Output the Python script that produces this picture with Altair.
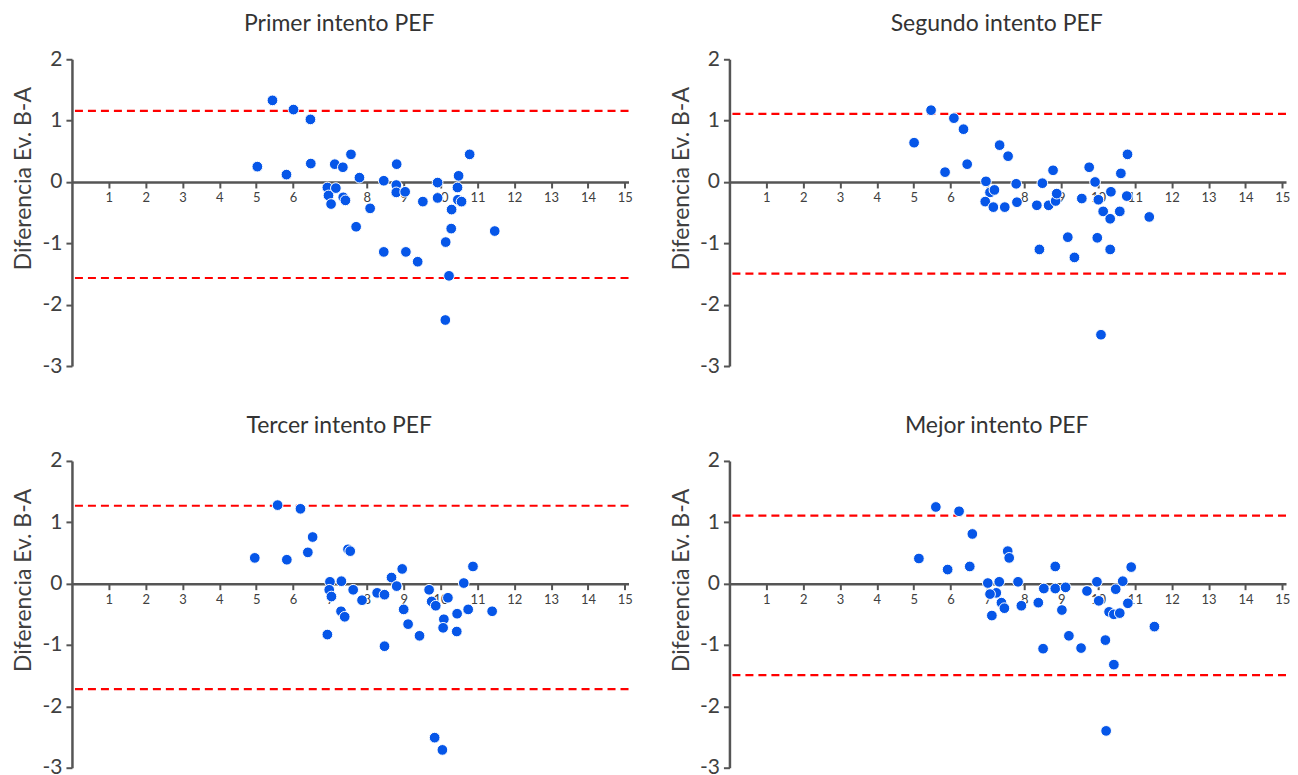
import altair as alt
import pandas as pd

TITLES = ["Primer intento PEF", "Segundo intento PEF", "Tercer intento PEF", "Mejor intento PEF"]
Y_TITLE = "Diferencia  Ev. B-A"
X_TICKS = list(range(1, 16))
Y_TICKS = [-3, -2, -1, 0, 1, 2]

P1_X = [5.44, 6.01, 6.47, 5.03, 5.82, 6.48, 7.13, 7.35, 7.57, 7.80, 6.93, 7.16, 6.96, 7.03, 7.36,
        7.42, 8.09, 7.71, 8.46, 8.81, 8.80, 8.80, 9.04, 9.52, 8.46, 9.06, 9.38, 9.92, 9.92, 10.49,
        10.46, 10.47, 10.57, 10.30, 10.29, 10.14, 10.23, 10.13, 10.79, 11.47]
P1_Y = [1.33, 1.18, 1.02, 0.25, 0.12, 0.30, 0.29, 0.24, 0.45, 0.07, -0.09, -0.10, -0.22, -0.36, -0.25,
        -0.30, -0.43, -0.73, 0.02, 0.29, -0.05, -0.17, -0.16, -0.32, -1.14, -1.14, -1.30, -0.01, -0.26, 0.10,
        -0.09, -0.29, -0.32, -0.45, -0.76, -0.98, -1.53, -2.25, 0.45, -0.80]
P1_LIMITS = [1.16, -1.565]

P2_X = [5.47, 6.09, 6.35, 5.01, 5.85, 6.45, 7.33, 7.56, 6.96, 7.07, 7.19, 6.94, 7.16, 7.47, 7.78,
        7.80, 8.34, 8.49, 8.78, 8.66, 8.85, 8.88, 8.41, 9.18, 9.36, 9.56, 9.76, 9.92, 10.01, 10.14,
        10.33, 10.35, 9.98, 10.33, 10.08, 10.62, 10.80, 10.78, 10.59, 11.39]
P2_Y = [1.17, 1.04, 0.86, 0.64, 0.16, 0.29, 0.60, 0.42, 0.01, -0.17, -0.13, -0.32, -0.41, -0.41, -0.03,
        -0.33, -0.38, -0.02, 0.19, -0.38, -0.31, -0.19, -1.10, -0.90, -1.23, -0.27, 0.24, 0.00, -0.29, -0.48,
        -0.60, -0.16, -0.91, -1.10, -2.49, 0.14, 0.45, -0.23, -0.48, -0.57]
P2_LIMITS = [1.11, -1.495]

P3_X = [5.58, 6.20, 6.53, 4.96, 5.83, 6.40, 7.49, 7.55, 7.00, 6.98, 7.04, 7.31, 7.63, 7.30, 7.40,
        7.87, 6.93, 8.28, 8.48, 8.48, 8.67, 8.81, 8.96, 9.00, 9.12, 9.43, 9.69, 9.76, 9.87, 10.20,
        10.09, 10.07, 10.45, 10.44, 10.63, 10.75, 10.88, 11.40, 9.84, 10.05]
P3_Y = [1.28, 1.22, 0.76, 0.42, 0.39, 0.51, 0.56, 0.53, 0.03, -0.10, -0.21, 0.04, -0.10, -0.45, -0.54,
        -0.27, -0.83, -0.15, -0.18, -1.02, 0.10, -0.04, 0.24, -0.42, -0.66, -0.85, -0.10, -0.29, -0.36, -0.23,
        -0.58, -0.72, -0.49, -0.78, 0.01, -0.42, 0.28, -0.45, -2.51, -2.71]
P3_LIMITS = [1.27, -1.72]

P4_X = [5.60, 6.23, 6.59, 5.14, 5.92, 6.52, 7.55, 7.59, 7.01, 7.32, 7.24, 7.07, 7.38, 7.46, 7.12,
        7.83, 7.92, 8.38, 8.53, 8.84, 8.84, 9.12, 9.02, 8.51, 9.21, 9.54, 9.70, 9.97, 10.02, 10.30,
        10.43, 10.59, 10.48, 10.67, 10.81, 10.90, 10.20, 10.43, 11.53, 10.22]
P4_Y = [1.25, 1.18, 0.81, 0.41, 0.23, 0.28, 0.53, 0.42, 0.01, 0.03, -0.15, -0.17, -0.31, -0.40, -0.52,
        0.03, -0.36, -0.31, -0.08, -0.08, 0.28, -0.06, -0.43, -1.06, -0.85, -1.05, -0.12, 0.03, -0.28, -0.46,
        -0.50, -0.48, -0.09, 0.04, -0.32, 0.27, -0.92, -1.32, -0.70, -2.40]
P4_LIMITS = [1.11, -1.49]

W = 557
H = 307
FONT = "Lato"
AXIS_COLOR = "#555555"
TEXT_COLOR = "#404040"
POINT_COLOR = "#0656E8"

x_scale = alt.Scale(domain=[0, 15.1], nice=False, zero=False)
y_scale = alt.Scale(domain=[-3, 2], nice=False, zero=False)


def panel(title, xs, ys, limits):
    df = pd.DataFrame({"x": xs, "y": ys})
    lim = pd.DataFrame({"y": limits})
    x_axis = alt.Axis(values=X_TICKS, offset=-H * 3 / 5, grid=False, title=None,
                      domainColor=AXIS_COLOR, domainWidth=2.5, tickColor=AXIS_COLOR,
                      tickWidth=2, tickSize=6, labelFont=FONT, labelFontSize=13,
                      labelColor=TEXT_COLOR, labelPadding=4)
    y_axis = alt.Axis(values=Y_TICKS, grid=False, title=Y_TITLE,
                      labelExpr="'' + datum.value",
                      domainColor=AXIS_COLOR, domainWidth=2.5, tickColor=AXIS_COLOR,
                      tickWidth=2, tickSize=6, labelFont=FONT, labelFontSize=21,
                      labelColor=TEXT_COLOR, labelPadding=4,
                      titleFont=FONT, titleFontSize=23, titleFontWeight="normal",
                      titleColor=TEXT_COLOR, titleX=-48, titleY=119, titleAngle=270,
                      titleBaseline="middle", titleAlign="center")
    rules = alt.Chart(lim).mark_rule(color="#FF0000", strokeWidth=2.2, strokeDash=[8, 5]).encode(
        y=alt.Y("y:Q", scale=y_scale, axis=y_axis)
    )
    pts = alt.Chart(df).mark_circle(size=115, color=POINT_COLOR, opacity=1,
                                    stroke="white", strokeWidth=1).encode(
        x=alt.X("x:Q", scale=x_scale, axis=x_axis),
        y=alt.Y("y:Q", scale=y_scale, axis=y_axis),
    )
    return alt.layer(rules, pts).properties(
        width=W, height=H,
        title=alt.TitleParams(title, font=FONT, fontSize=23, fontWeight="normal",
                              color="#333333", anchor="middle", offset=12, dx=-11,
                              frame="group"),
    )


p1 = panel(TITLES[0], P1_X, P1_Y, P1_LIMITS)
p2 = panel(TITLES[1], P2_X, P2_Y, P2_LIMITS)
p3 = panel(TITLES[2], P3_X, P3_Y, P3_LIMITS)
p4 = panel(TITLES[3], P4_X, P4_Y, P4_LIMITS)

chart = alt.concat(p1, p2, p3, p4, columns=2, spacing={"row": 95, "column": 101},
                   bounds="flush").configure(
    background="white", padding={"left": 4, "top": 5, "right": 0, "bottom": 0}
).configure_view(stroke=None)

chart.save("out.html", embed_options={"renderer": "svg", "actions": False})
